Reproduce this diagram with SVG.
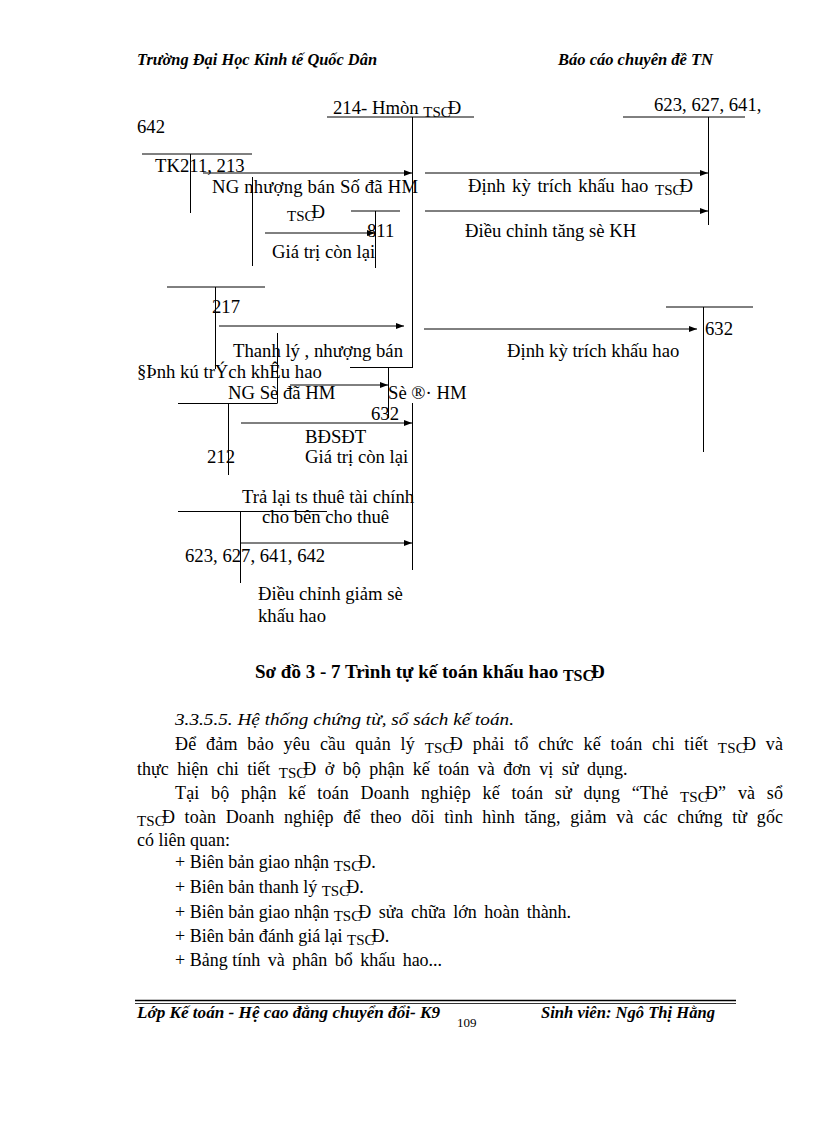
<svg xmlns="http://www.w3.org/2000/svg" width="816" height="1123" viewBox="0 0 816 1123">
<style>
text{font-family:"Liberation Serif","Times New Roman",serif;fill:#000}
.d{font-size:18.7px}
.b{font-size:18px}
.h{font-size:16px;font-style:italic;font-weight:bold}
.cap{font-size:19px;font-weight:bold}
.it{font-size:17.5px;font-style:italic}
.pg{font-size:13px}
.s{font-size:15px}
.ln{stroke:#000;stroke-width:1;fill:none}
.ar{stroke:#000;stroke-width:1;fill:none;marker-end:url(#ah)}
</style>
<defs>
<marker id="ah" markerUnits="userSpaceOnUse" markerWidth="8" markerHeight="6" refX="8" refY="3" orient="auto">
<path d="M0,0 L8,3 L0,6 z" fill="#000"/>
</marker>
</defs>
<rect width="816" height="1123" fill="#fff"/>

<g id="header">
<text class="h" x="137" y="65" textLength="240" lengthAdjust="spacingAndGlyphs">Trường Đại Học Kinh tế Quốc Dân</text>
<text class="h" x="558" y="65" textLength="155" lengthAdjust="spacingAndGlyphs">Báo cáo chuyên đề TN</text>
</g>

<g id="tk214">
<path class="ln" d="M327,117 H474 M412.5,117 V368 M412.5,403 V570"/>
<text class="d" x="333" y="114">214- Hmòn <tspan class="s" dy="3">TSC</tspan><tspan dx="-3" dy="-3">Đ</tspan></text>
</g>

<g id="tk623top">
<path class="ln" d="M623,117 H745 M708.5,117 V225"/>
<text class="d" x="654" y="111">623, 627, 641,</text>
<text class="d" x="137" y="133">642</text>
</g>

<g id="tk211">
<path class="ln" d="M142,154 H252 M190.5,154 V213"/>
<text class="d" x="155" y="172">TK211, 213</text>
</g>

<g id="tk811">
<path class="ln" d="M351,211 H400 M375.5,211 V268 M252.5,177 V266"/>
<text class="d" x="367" y="237">811</text>
</g>

<g id="tk217">
<path class="ln" d="M167,287 H265 M215.5,287 V369"/>
<text class="d" x="212" y="313">217</text>
</g>

<g id="tk212">
<path class="ln" d="M277.5,333 V403 M178,403.5 H277.5 M228.5,403 V475"/>
<text class="d" x="207" y="463">212</text>
</g>

<g id="tk632mid">
<path class="ln" d="M350,367.5 H412.5 M388.5,367 V418"/>
<text class="d" x="371" y="420">632</text>
</g>

<g id="tk632right">
<path class="ln" d="M666,307 H753 M703.5,307 V452"/>
<text class="d" x="705" y="335">632</text>
</g>

<g id="tk623bottom">
<path class="ln" d="M178,511.5 H327 M240.5,511 V583"/>
<text class="d" x="185" y="562">623, 627, 641, 642</text>
</g>

<g id="connectors">
<line class="ar" x1="203" y1="173" x2="412" y2="173"/>
<line class="ar" x1="425" y1="173" x2="708" y2="173"/>
<line class="ar" x1="425" y1="211" x2="708" y2="211"/>
<line class="ar" x1="265" y1="233" x2="375" y2="233"/>
<line class="ar" x1="219" y1="326" x2="404" y2="326"/>
<line class="ar" x1="424" y1="329" x2="697" y2="329"/>
<line class="ar" x1="290" y1="385" x2="388" y2="385"/>
<line class="ar" x1="241" y1="423" x2="412" y2="423"/>
<line class="ar" x1="240" y1="543" x2="412" y2="543"/>
</g>

<g id="labels">
<text class="d" x="212" y="193" textLength="206">NG nhượng bán Số đã HM</text>
<text class="d" x="287" y="218"><tspan class="s" dy="3">TSC</tspan><tspan dx="-3" dy="-3">Đ</tspan></text>
<text class="d" x="272" y="258">Giá trị còn lại</text>
<text class="d" x="468" y="192" word-spacing="2">Định kỳ trích khấu hao <tspan class="s" dy="3">TSC</tspan><tspan dx="-3" dy="-3">Đ</tspan></text>
<text class="d" x="465" y="237">Điều chỉnh tăng sè KH</text>
<text class="d" x="233" y="357">Thanh lý , nhượng bán</text>
<text class="d" x="507" y="357">Định kỳ trích khấu hao</text>
<text class="d" x="137" y="378">§Þnh kú trÝch khÊu hao</text>
<text class="d" x="228" y="399">NG Sè đã HM</text>
<text class="d" x="388" y="399">Sè ®· HM</text>
<text class="d" x="305" y="443">BĐSĐT</text>
<text class="d" x="305" y="463">Giá trị còn lại</text>
<text class="d" x="242" y="503">Trả lại ts thuê tài chính</text>
<text class="d" x="262" y="523">cho bên cho thuê</text>
<text class="d" x="258" y="600">Điều chỉnh giảm sè</text>
<text class="d" x="258" y="622">khấu hao</text>
</g>

<g id="caption">
<text class="cap" x="255" y="678">Sơ đồ 3 - 7 Trình tự kế toán khấu hao <tspan font-size="16" dy="3">TSC</tspan><tspan dx="-3" dy="-3">Đ</tspan></text>
</g>

<g id="body">
<text class="it" x="175" y="725" textLength="339" lengthAdjust="spacingAndGlyphs">3.3.5.5. Hệ thống chứng từ, sổ sách kế toán.</text>
<text class="b" x="175" y="750" word-spacing="5" textLength="608" lengthAdjust="spacing">Để đảm bảo yêu cầu quản lý <tspan class="s" dy="3">TSC</tspan><tspan dx="-3" dy="-3">Đ</tspan> phải tổ chức kế toán chi tiết <tspan class="s" dy="3">TSC</tspan><tspan dx="-3" dy="-3">Đ</tspan> và</text>
<text class="b" x="137" y="775" word-spacing="4">thực hiện chi tiết <tspan class="s" dy="3">TSC</tspan><tspan dx="-3" dy="-3">Đ</tspan> ở bộ phận kế toán và đơn vị sử dụng.</text>
<text class="b" x="175" y="799" word-spacing="7" textLength="608" lengthAdjust="spacing">Tại bộ phận kế toán Doanh nghiệp kế toán sử dụng “Thẻ <tspan class="s" dy="3">TSC</tspan><tspan dx="-3" dy="-3">Đ</tspan>” và sổ</text>
<text class="b" x="137" y="823" word-spacing="5" textLength="646" lengthAdjust="spacing"><tspan class="s" dy="3">TSC</tspan><tspan dx="-3" dy="-3">Đ</tspan> toàn Doanh nghiệp để theo dõi tình hình tăng, giảm và các chứng từ gốc</text>
<text class="b" x="137" y="846">có liên quan:</text>
<text class="b" x="175" y="868">+ Biên bản giao nhận <tspan class="s" dy="3">TSC</tspan><tspan dx="-3" dy="-3">Đ</tspan>.</text>
<text class="b" x="175" y="893">+ Biên bản thanh lý <tspan class="s" dy="3">TSC</tspan><tspan dx="-3" dy="-3">Đ</tspan>.</text>
<text class="b" x="175" y="918"><tspan>+ Biên bản giao nhận </tspan><tspan class="s" dy="3">TSC</tspan><tspan dx="-3" dy="-3">Đ</tspan><tspan word-spacing="3"> sửa chữa lớn hoàn thành.</tspan></text>
<text class="b" x="175" y="942">+ Biên bản đánh giá lại <tspan class="s" dy="3">TSC</tspan><tspan dx="-3" dy="-3">Đ</tspan>.</text>
<text class="b" x="175" y="966">+ Bảng <tspan word-spacing="3">tính và phân bổ khấu hao...</tspan></text>
</g>

<g id="footer">
<line x1="135" y1="1000.5" x2="736" y2="1000.5" stroke="#000" stroke-width="1.5"/>
<line x1="135" y1="1003.5" x2="736" y2="1003.5" stroke="#000" stroke-width="0.8"/>
<text class="h" x="137" y="1018" textLength="303" lengthAdjust="spacingAndGlyphs">Lớp Kế toán - Hệ cao đẳng chuyển đổi- K9</text>
<text class="pg" x="457" y="1027">109</text>
<text class="h" x="541" y="1018" textLength="174" lengthAdjust="spacingAndGlyphs">Sinh viên: Ngô Thị Hằng</text>
</g>
</svg>
